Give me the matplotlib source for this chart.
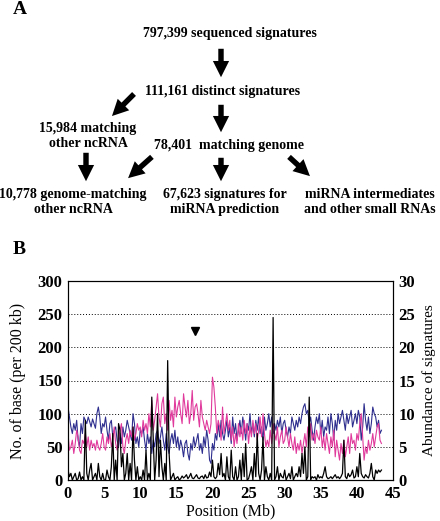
import matplotlib
matplotlib.use("Agg")
import matplotlib.pyplot as plt
import numpy as np

plt.rcParams['font.family'] = ['Liberation Serif', 'DejaVu Serif']
plt.rcParams['font.weight'] = 'bold'

# panel A: flow chart texts
flow_top = "797,399 sequenced signatures"
flow_distinct = "111,161 distinct signatures"
flow_ncrna = "15,984 matching\nother ncRNA"
flow_genome = "78,401  matching genome"
flow_leaves = ["10,778 genome-matching\nother ncRNA",
               "67,623 signatures for\nmiRNA prediction",
               "miRNA intermediates\nand other small RNAs"]

# panel B: values per 200 kb bin (0 .. 43.4 Mb)
bin_mb = 0.2
blue = [110, 95, 80, 70, 85, 75, 90, 60, 50, 85,
        70, 95, 90, 85, 95, 88, 80, 92, 85, 78,
        100, 110, 95, 70, 85, 80, 95, 75, 60, 85,
        90, 65, 75, 80, 60, 50, 70, 55, 80, 65,
        75, 90, 80, 70, 60, 100, 85, 55, 65, 50,
        75, 70, 80, 60, 45, 70, 55, 65, 40, 60,
        50, 70, 75, 55, 65, 80, 60, 45, 70, 50,
        40, 60, 70, 55, 75, 50, 65, 45, 60, 50,
        35, 55, 60, 40, 30, 55, 45, 65, 50, 60,
        70, 45, 55, 40, 65, 50, 75, 60, 30, 25,
        55, 45, 70, 60, 85, 65, 90, 70, 60, 75,
        90, 65, 80, 55, 95, 70, 85, 60, 75, 90,
        70, 95, 80, 60, 85, 75, 100, 70, 85, 65,
        90, 75, 95, 70, 80, 60, 95, 75, 85, 100,
        80, 95, 70, 85, 75, 90, 80, 95, 70, 85,
        90, 75, 65, 80, 70, 95, 85, 75, 90, 80,
        95, 85, 100, 110, 115, 100, 105, 85, 95, 75,
        60, 80, 95, 85, 100, 70, 90, 65, 80, 75,
        95, 70, 100, 85, 60, 90, 75, 100, 85, 95,
        105, 90, 75, 100, 85, 95, 105, 80, 90, 100,
        85, 105, 95, 60, 80, 115, 90, 75, 95, 70,
        85, 110, 100, 95, 80, 90, 70, 75]
pink = [70, 45, 50, 60, 40, 55, 75, 65, 45, 40,
        60, 55, 70, 50, 65, 45, 60, 50, 55, 45,
        60, 50, 45, 55, 70, 50, 45, 65, 55, 70,
        50, 60, 80, 55, 45, 60, 75, 85, 50, 40,
        60, 70, 55, 75, 65, 80, 60, 70, 85, 75,
        80, 65, 90, 75, 85, 70, 100, 80, 120, 75,
        90, 110, 130, 95, 80, 115, 125, 85, 100, 75,
        120, 90, 105, 80, 125, 95, 110, 120, 100, 85,
        130, 110, 95, 120, 85, 100, 135, 90, 110, 115,
        100, 80, 120, 95, 85, 75, 90, 80, 70, 85,
        155, 140, 110, 70, 90, 80, 60, 110, 70, 85,
        100, 75, 90, 60, 80, 50, 70, 55, 85, 65,
        80, 60, 90, 70, 85, 55, 80, 65, 90, 70,
        85, 60, 75, 95, 65, 100, 70, 50, 60, 50,
        75, 55, 85, 70, 60, 80, 50, 65, 75, 55,
        60, 80, 65, 50, 70, 55, 45, 65, 40, 55,
        45, 60, 40, 55, 70, 50, 80, 65, 85, 60,
        70, 55, 75, 65, 60, 80, 50, 65, 45, 70,
        55, 40, 65, 50, 75, 35, 60, 45, 30, 55,
        40, 60, 35, 50, 65, 40, 70, 55, 60, 45,
        70, 60, 85, 100, 65, 30, 50, 40, 60, 45,
        55, 70, 50, 65, 80, 85, 60, 55]
# abundance of signatures (right axis)
abundance = [1.5, 0.5, 1, 0, 0.5, 1, 0, 0.2, 1.2, 0,
             0.5, 0, 9, 1, 0, 1.5, 2.5, 0, 0.5, 1,
             0, 2.5, 0.5, 0, 1, 0, 0, 1.5, 0.5, 0,
             2, 7, 0, 3, 0, 8.5, 7.5, 2, 4, 0,
             1, 4, 0, 2.5, 0, 8, 3, 0, 2, 0,
             0.5, 0, 1.5, 0, 4.5, 0, 1, 0, 12.5, 6,
             0, 3, 10, 0.5, 6, 2, 0, 2.5, 0, 18,
             4, 0, 0.5, 1, 0, 0.3, 0.5, 0, 0.2, 0.6,
             0.3, 0.5, 0.8, 0.2, 0.5, 1, 0.3, 0.2, 0.5, 0.8,
             0.3, 0.2, 0.5, 0.6, 0.2, 0.8, 0.3, 0.4, 1.2, 0.5,
             3, 0.5, 0.2, 0.5, 2.5, 0.8, 4, 0.5, 1, 0,
             3.5, 0.5, 0, 4.5, 0.5, 0, 2, 0, 0.5, 3,
             0, 4, 0.5, 5.5, 0, 0.2, 1, 2, 0, 4,
             0.5, 7, 1, 0, 1.5, 6.5, 0, 2, 0.5, 0,
             1, 0, 24.5, 0, 0.5, 2, 0, 1, 0.5, 0.3,
             1.5, 0, 0.5, 1, 0.2, 2, 0, 0.5, 1, 0.5,
             2, 0.5, 4, 1, 5, 0, 0.5, 12.5, 0, 0.5,
             0.3, 0.5, 0, 0.8, 0.3, 0.5, 0.3, 1, 2, 0.5,
             0.2, 0.3, 0.5, 0.2, 0.5, 0.8, 0.3, 0.5, 0.2, 0.5,
             1, 6, 0.5, 0.2, 1, 0.5, 0.8, 1.5, 0.3, 0.5,
             2, 0.5, 4, 1, 0.5, 0.3, 0.8, 0.5, 0.3, 1,
             2.5, 0.5, 0, 1.5, 1, 1.5, 1.2, 1.5]
marker_pos = (17.6, 225)

W, H = 440, 521
fig = plt.figure(figsize=(W / 100, H / 100), dpi=100)


def px(x, y):
    return (x / W, 1 - y / H)


def arrow(x0, y0, x1, y1):
    fig.add_artist(matplotlib.patches.FancyArrowPatch(
        px(x0, y0), px(x1, y1), transform=fig.transFigure,
        arrowstyle='simple,head_length=0.9,head_width=0.9,tail_width=0.3',
        mutation_scale=13, color='black', lw=0))


fs = 10
fig.text(*px(13, 10), "A", fontsize=14, va='center', ha='left')
fig.text(*px(230, 33), flow_top, fontsize=fs, ha='center', va='center')
arrow(221, 46, 221, 80)
fig.text(*px(223, 91), flow_distinct, fontsize=fs, ha='center', va='center')
arrow(136, 92, 110, 118)
arrow(221, 102, 221, 135)
fig.text(*px(88, 136), flow_ncrna, fontsize=fs, ha='center', va='center', linespacing=1.25)
fig.text(*px(229, 145), flow_genome, fontsize=fs, ha='center', va='center')
arrow(86, 150, 86, 184)
arrow(154, 155, 126, 180)
arrow(221, 155, 221, 184)
arrow(287, 155, 312, 178)
for xc, t in zip([73, 225, 370], flow_leaves):
    fig.text(*px(xc, 202), t, fontsize=fs, ha='center', va='center', linespacing=1.25)
fig.text(*px(13, 250), "B", fontsize=14, va='center', ha='left')

# panel B
ax = fig.add_axes([68 / W, 1 - 480 / H, 325 / W, 199 / H])
pos = np.arange(len(blue)) * bin_mb
ax.plot(pos, blue, color='#2e2e8f', lw=0.8)
ax.plot(pos, pink, color='#e03a9c', lw=0.8)
ax.plot(*marker_pos, marker='v', color='black', ms=6)
ax.set_xlim(0, 45)
ax.set_ylim(0, 300)
ax.set_xticks(range(0, 46, 5))
ax.set_yticks(range(0, 301, 50))
for g in range(50, 300, 50):
    ax.axhline(g, color='black', lw=0.7, ls=(0, (1, 2)), zorder=0)
ax.set_ylabel("No. of base (per 200 kb)", fontsize=11.5)
ax.yaxis.set_label_coords(-0.128, 0.5)
ax.set_xlabel("Position (Mb)", fontsize=11.5, labelpad=1)
ax.tick_params(labelsize=12, direction='in', length=0, pad=4)

ax2 = ax.twinx()
ax2.plot(pos[:len(abundance)], abundance, color='black', lw=0.9)
ax2.set_ylim(0, 30)
ax2.set_yticks(range(0, 31, 5))
ax2.tick_params(labelsize=12, direction='in', length=0, pad=4)
ax2.set_ylabel("Abundance of signatures", fontsize=11, rotation=90)
ax2.yaxis.set_label_coords(1.09, 0.5)

fig.savefig("out.png", dpi=100)
